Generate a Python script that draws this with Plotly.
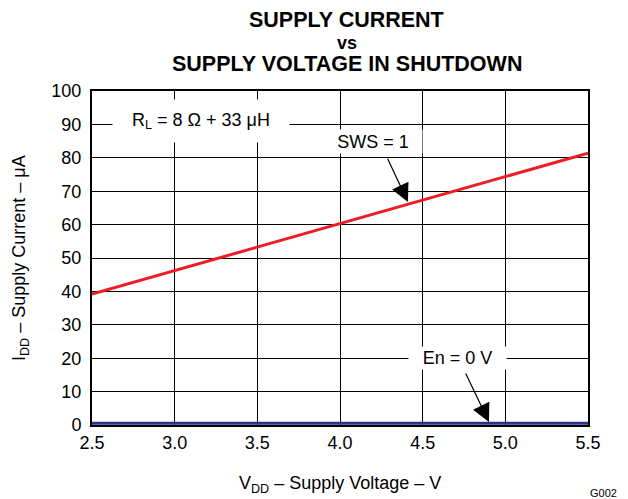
import plotly.graph_objects as go

vdd = [2.5, 3.0, 3.5, 4.0, 4.5, 5.0, 5.5]
i_sws1 = [39.2, 46.2, 53.2, 60.2, 67.2, 74.3, 81.4]
i_en0 = [0.5, 0.5, 0.5, 0.5, 0.5, 0.5, 0.5]

x_ticks = [2.5, 3.0, 3.5, 4.0, 4.5, 5.0, 5.5]
x_tick_text = ["2.5", "3.0", "3.5", "4.0", "4.5", "5.0", "5.5"]
y_ticks = [0, 10, 20, 30, 40, 50, 60, 70, 80, 90, 100]

FONT = "Liberation Sans, Arial, sans-serif"

fig = go.Figure()
fig.add_trace(go.Scatter(x=vdd, y=i_en0, mode="lines",
                         line=dict(color="#2b2f85", width=3), showlegend=False))
fig.add_trace(go.Scatter(x=vdd, y=i_sws1, mode="lines",
                         line=dict(color="#ee1c24", width=3), showlegend=False))

fig.update_layout(
    width=628, height=499,
    margin=dict(l=84, r=48, t=83, b=82),
    paper_bgcolor="white", plot_bgcolor="white",
    font=dict(family=FONT, size=18, color="black"),
    xaxis=dict(range=[2.5, 5.5], tickvals=x_ticks, ticktext=x_tick_text,
               showgrid=True, gridcolor="black", gridwidth=1,
               showline=True, linecolor="black", linewidth=2, mirror=True,
               ticks="", zeroline=False, tickfont=dict(size=18)),
    yaxis=dict(range=[0, 100], tickvals=y_ticks,
               showgrid=True, gridcolor="black", gridwidth=1,
               showline=True, linecolor="black", linewidth=2, mirror=True,
               ticks="outside", ticklen=5, tickcolor="rgba(0,0,0,0)",
               zeroline=False, tickfont=dict(size=18)),
)

# Title lines
fig.add_annotation(x=0.514, y=1, xref="paper", yref="paper", yshift=71, yanchor="middle",
                   text="<b>SUPPLY CURRENT</b>", showarrow=False, font=dict(size=21.5))
fig.add_annotation(x=0.514, y=1, xref="paper", yref="paper", yshift=48, yanchor="middle",
                   text="<b>vs</b>", showarrow=False, font=dict(size=18))
fig.add_annotation(x=0.514, y=1, xref="paper", yref="paper", yshift=27, yanchor="middle",
                   text="<b>SUPPLY VOLTAGE IN SHUTDOWN</b>", showarrow=False,
                   font=dict(size=21.5))

# Axis titles
fig.add_annotation(x=0, y=0.5, xref="paper", yref="paper", xshift=-72,
                   xanchor="center", yanchor="middle", textangle=-90,
                   text="I<sub>DD</sub> – Supply Current – μA", showarrow=False,
                   font=dict(size=18))
fig.add_annotation(x=0.5, y=0, xref="paper", yref="paper", yshift=-59,
                   xanchor="center", yanchor="middle",
                   text="V<sub>DD</sub> – Supply Voltage – V", showarrow=False,
                   font=dict(size=18))

# Labels in the plot
fig.add_annotation(x=3.159, y=91.0, xref="x", yref="y",
                   text="R<sub>L</sub> = 8 Ω + 33 μH", showarrow=False,
                   width=172, height=38, borderpad=2, bgcolor="white",
                   font=dict(size=18))
fig.add_annotation(x=4.411, y=66.8, ax=4.284, ay=80.2, axref="x", ayref="y",
                   xref="x", yref="y", text="", showarrow=True,
                   arrowhead=2, arrowsize=3.0, arrowwidth=1.2, arrowcolor="black")
fig.add_annotation(x=4.2, y=85.0, xref="x", yref="y",
                   text="SWS = 1", showarrow=False,
                   width=96, height=21, borderpad=1, bgcolor="white",
                   font=dict(size=18))
fig.add_annotation(x=4.901, y=0.9, ax=4.756, ay=15.9, axref="x", ayref="y",
                   xref="x", yref="y", text="", showarrow=True,
                   arrowhead=2, arrowsize=3.0, arrowwidth=1.2, arrowcolor="black")
fig.add_annotation(x=4.71, y=20.0, xref="x", yref="y",
                   text="En = 0 V", showarrow=False,
                   width=95, height=20, borderpad=1, bgcolor="white",
                   font=dict(size=18))

fig.add_annotation(x=1.0, y=0, xref="paper", yref="paper", xanchor="left",
                   yanchor="middle", xshift=0, yshift=-68, text="G002",
                   showarrow=False, font=dict(size=11))

fig.write_html("out.html")
